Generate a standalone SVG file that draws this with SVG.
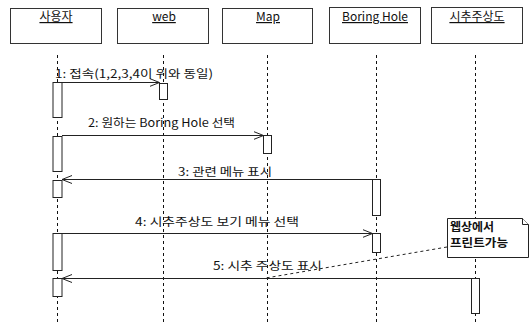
<svg xmlns="http://www.w3.org/2000/svg" width="529" height="325" viewBox="0 0 529 325">
<style>
.bg{fill:#fff}
.obj{fill:#fff;stroke:#333;stroke-width:1}
.hd{font-family:"Noto Sans CJK KR","Liberation Sans",sans-serif;font-size:12px;fill:#111;text-decoration:underline;text-anchor:middle}
.life{stroke:#111;stroke-width:1;stroke-dasharray:3,3;fill:none}
.act{fill:#fff;stroke:#222;stroke-width:1}
.msg{stroke:#222;stroke-width:1;fill:none}
.lbl{font-family:"Noto Sans CJK KR","Liberation Sans",sans-serif;font-size:11.5px;fill:#111}
.note{fill:#fff;stroke:#222;stroke-width:1}
.ntxt{font-family:"Noto Sans CJK KR","Liberation Sans",sans-serif;font-size:11px;font-weight:bold;fill:#111}
.anchor{stroke:#222;stroke-width:1;stroke-dasharray:3,3;fill:none}
</style>
<defs>
<marker id="open" viewBox="0 0 10 10" refX="10" refY="5" markerWidth="10" markerHeight="10" markerUnits="userSpaceOnUse" orient="auto">
<path d="M0,1 L10,5 L0,9" fill="none" stroke="#222" stroke-width="1"/>
</marker>
</defs>
<rect class="bg" x="0" y="0" width="529" height="325"/>

<g id="lifelines">
<line class="life" x1="57.5" y1="55" x2="57.5" y2="325"/>
<line class="life" x1="163.5" y1="55" x2="163.5" y2="325"/>
<line class="life" x1="267.5" y1="55" x2="267.5" y2="325"/>
<line class="life" x1="376.5" y1="55" x2="376.5" y2="325"/>
<line class="life" x1="475.5" y1="55" x2="475.5" y2="325"/>
</g>

<g id="user">
<rect class="obj" x="10.5" y="8.5" width="91" height="35"/>
<text class="hd" x="56" y="21">사용자</text>
</g>
<g id="web">
<rect class="obj" x="117.5" y="8.5" width="91" height="35"/>
<text class="hd" x="164" y="21">web</text>
</g>
<g id="map">
<rect class="obj" x="222.5" y="8.5" width="90" height="35"/>
<text class="hd" x="268" y="21">Map</text>
</g>
<g id="boringhole">
<rect class="obj" x="329.5" y="7.5" width="91" height="36"/>
<text class="hd" x="375" y="21">Boring Hole</text>
</g>
<g id="sichu">
<rect class="obj" x="431.5" y="7.5" width="91" height="36"/>
<text class="hd" x="477" y="21">시추주상도</text>
</g>

<g id="activations">
<rect class="act" x="53" y="82.5" width="9" height="35"/>
<rect class="act" x="53" y="136.5" width="9" height="35"/>
<rect class="act" x="53" y="180.5" width="9" height="17"/>
<rect class="act" x="53" y="233.5" width="9" height="37"/>
<rect class="act" x="53" y="278.5" width="9" height="18"/>
<rect class="act" x="159.5" y="83.5" width="8" height="16"/>
<rect class="act" x="263.5" y="135.5" width="8" height="18"/>
<rect class="act" x="372.5" y="179.5" width="8" height="36"/>
<rect class="act" x="372.5" y="233.5" width="8" height="19"/>
<rect class="act" x="471.5" y="278.5" width="8" height="35"/>
</g>

<g id="connectors">
<line class="msg" x1="62" y1="82.5" x2="159.5" y2="82.5" marker-end="url(#open)"/>
<line class="msg" x1="62" y1="135.5" x2="263.5" y2="135.5" marker-end="url(#open)"/>
<line class="msg" x1="372.5" y1="179.5" x2="62" y2="179.5" marker-end="url(#open)"/>
<line class="msg" x1="62" y1="233.5" x2="372.5" y2="233.5" marker-end="url(#open)"/>
<line class="msg" x1="471.5" y1="278.5" x2="62" y2="278.5" marker-end="url(#open)"/>
<line class="anchor" x1="447" y1="247" x2="266" y2="278"/>
</g>

<g id="labels">
<text class="lbl" x="55" y="78" textLength="158" lengthAdjust="spacingAndGlyphs">1: 접속(1,2,3,4이 위와 동일)</text>
<text class="lbl" x="88" y="127" textLength="147" lengthAdjust="spacingAndGlyphs">2: 원하는 Boring Hole 선택</text>
<text class="lbl" x="178" y="176" textLength="94" lengthAdjust="spacingAndGlyphs">3: 관련 메뉴 표시</text>
<text class="lbl" x="135" y="226" textLength="164" lengthAdjust="spacingAndGlyphs">4: 시추주상도 보기 메뉴 선택</text>
<text class="lbl" x="213" y="270" textLength="109" lengthAdjust="spacingAndGlyphs">5: 시추 주상도 표시</text>
</g>

<g id="note">
<path class="note" d="M447.5,218.5 H522.5 L528.5,224.5 V257.5 H447.5 Z"/>
<path class="note" d="M522.5,218.5 V224.5 H528.5"/>
<text class="ntxt" x="450" y="231" textLength="44" lengthAdjust="spacingAndGlyphs">웹상에서</text>
<text class="ntxt" x="450" y="247" textLength="58" lengthAdjust="spacingAndGlyphs">프린트가능</text>
</g>
</svg>
